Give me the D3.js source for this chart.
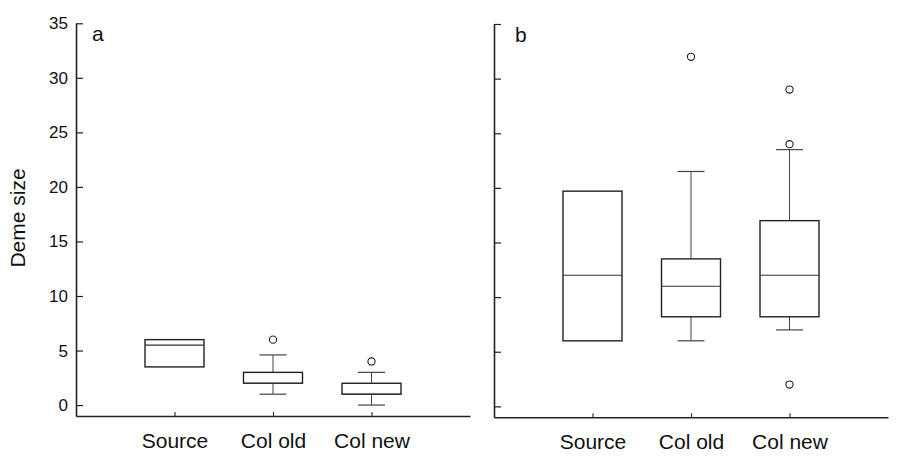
<!DOCTYPE html>
<html>
<head>
<meta charset="utf-8">
<script src="https://cdnjs.cloudflare.com/ajax/libs/d3/7.8.5/d3.min.js"></script>
<style>
  body { margin: 0; background: #fff; }
  svg { display: block; font-family: "Liberation Sans", Arial, sans-serif; }
</style>
</head>
<body>
<div id="chart"></div>
<script>
// categories and tick values
var categories = ['Source', 'Col old', 'Col new']
var yTicks = [0, 5, 10, 15, 20, 25, 30, 35]

// panel a: box stats per category (null = no whisker)
var aQ1 = [3.5, 2, 1]
var aMedian = [5.5, 2, 1]
var aQ3 = [6, 3, 2]
var aLow = [null, 1, 0]
var aHigh = [null, 4.6, 3]
var aOutliers = [[], [6], [4]]

// panel b
var bQ1 = [6, 8.2, 8.2]
var bMedian = [12, 11, 12]
var bQ3 = [19.7, 13.5, 17]
var bLow = [null, 6, 7]
var bHigh = [null, 21.5, 23.5]
var bOutliers = [[], [32], [29, 24, 2]]

var W = 898, H = 476
var svg = d3.select('#chart').append('svg')
  .attr('width', W)
  .attr('height', H)

function build_panel(props) {
  // props: left, right, top, bottom, letter, letterDx, showLabels, stats
  var g = svg.append('g')

  var y = d3.scaleLinear().domain([-1, 35]).range([props.bottom, props.top])
  var x = d3.scalePoint().domain(categories).range([props.left, props.right]).padding(1)

  var yAxis = d3.axisLeft(y)
    .tickValues(yTicks)
    .tickSizeInner(-7)
    .tickSizeOuter(0)
    .tickPadding(8)
  if (!props.showLabels) yAxis.tickFormat('')

  var ya = g.append('g')
    .attr('transform', 'translate(' + props.left + ',0)')
    .call(yAxis)
  ya.selectAll('text').attr('font-size', 17).attr('fill', '#111').attr('font-family', null)
  ya.select('.domain').attr('stroke', '#222').attr('stroke-width', 1.6)
  ya.selectAll('.tick line').attr('stroke', '#222').attr('stroke-width', 1.2)

  var xa = g.append('g')
    .attr('transform', 'translate(0,' + props.bottom + ')')
    .call(d3.axisBottom(x).tickSizeInner(-4).tickSizeOuter(0).tickPadding(17))
  xa.selectAll('text').attr('font-size', 21).attr('fill', '#111').attr('font-family', null)
  xa.select('.domain').attr('stroke', '#222').attr('stroke-width', 1.6)
  xa.selectAll('.tick line').attr('stroke', '#333').attr('stroke-width', 1.2)

  g.append('text')
    .attr('x', props.left + props.letterDx)
    .attr('y', props.top + 18)
    .attr('font-size', 21)
    .attr('fill', '#111')
    .text(props.letter)

  var s = props.stats
  var boxW = 59, capW = 27
  categories.forEach(function(c, i) {
    var cx = x(c)
    // whiskers
    if (s.high[i] !== null) {
      g.append('line').attr('x1', cx).attr('x2', cx)
        .attr('y1', y(s.q3[i])).attr('y2', y(s.high[i]))
        .attr('stroke', '#444').attr('stroke-width', 1)
      g.append('line').attr('x1', cx - capW / 2).attr('x2', cx + capW / 2)
        .attr('y1', y(s.high[i])).attr('y2', y(s.high[i]))
        .attr('stroke', '#444').attr('stroke-width', 1.2)
    }
    if (s.low[i] !== null) {
      g.append('line').attr('x1', cx).attr('x2', cx)
        .attr('y1', y(s.q1[i])).attr('y2', y(s.low[i]))
        .attr('stroke', '#444').attr('stroke-width', 1)
      g.append('line').attr('x1', cx - capW / 2).attr('x2', cx + capW / 2)
        .attr('y1', y(s.low[i])).attr('y2', y(s.low[i]))
        .attr('stroke', '#444').attr('stroke-width', 1.2)
    }
    // box
    g.append('rect')
      .attr('x', cx - boxW / 2)
      .attr('y', y(s.q3[i]))
      .attr('width', boxW)
      .attr('height', y(s.q1[i]) - y(s.q3[i]))
      .attr('fill', 'none')
      .attr('stroke', '#222')
      .attr('stroke-width', 1.4)
    g.append('line')
      .attr('x1', cx - boxW / 2).attr('x2', cx + boxW / 2)
      .attr('y1', y(s.median[i])).attr('y2', y(s.median[i]))
      .attr('stroke', '#333').attr('stroke-width', 1.1)
    // outliers
    s.outliers[i].forEach(function(v) {
      g.append('circle')
        .attr('cx', cx).attr('cy', y(v)).attr('r', 3.6)
        .attr('fill', 'none').attr('stroke', '#222').attr('stroke-width', 1.1)
    })
  })
}

build_panel({
  left: 76, right: 470, top: 23.3, bottom: 416,
  letter: 'a', letterDx: 16, showLabels: true,
  stats: { q1: aQ1, median: aMedian, q3: aQ3, low: aLow, high: aHigh, outliers: aOutliers }
})

build_panel({
  left: 494, right: 888, top: 24, bottom: 417.3,
  letter: 'b', letterDx: 21, showLabels: false,
  stats: { q1: bQ1, median: bMedian, q3: bQ3, low: bLow, high: bHigh, outliers: bOutliers }
})

svg.append('text')
  .attr('transform', 'translate(25,218) rotate(-90)')
  .attr('text-anchor', 'middle')
  .attr('font-size', 21)
  .attr('fill', '#111')
  .text('Deme size')
</script>
</body>
</html>
